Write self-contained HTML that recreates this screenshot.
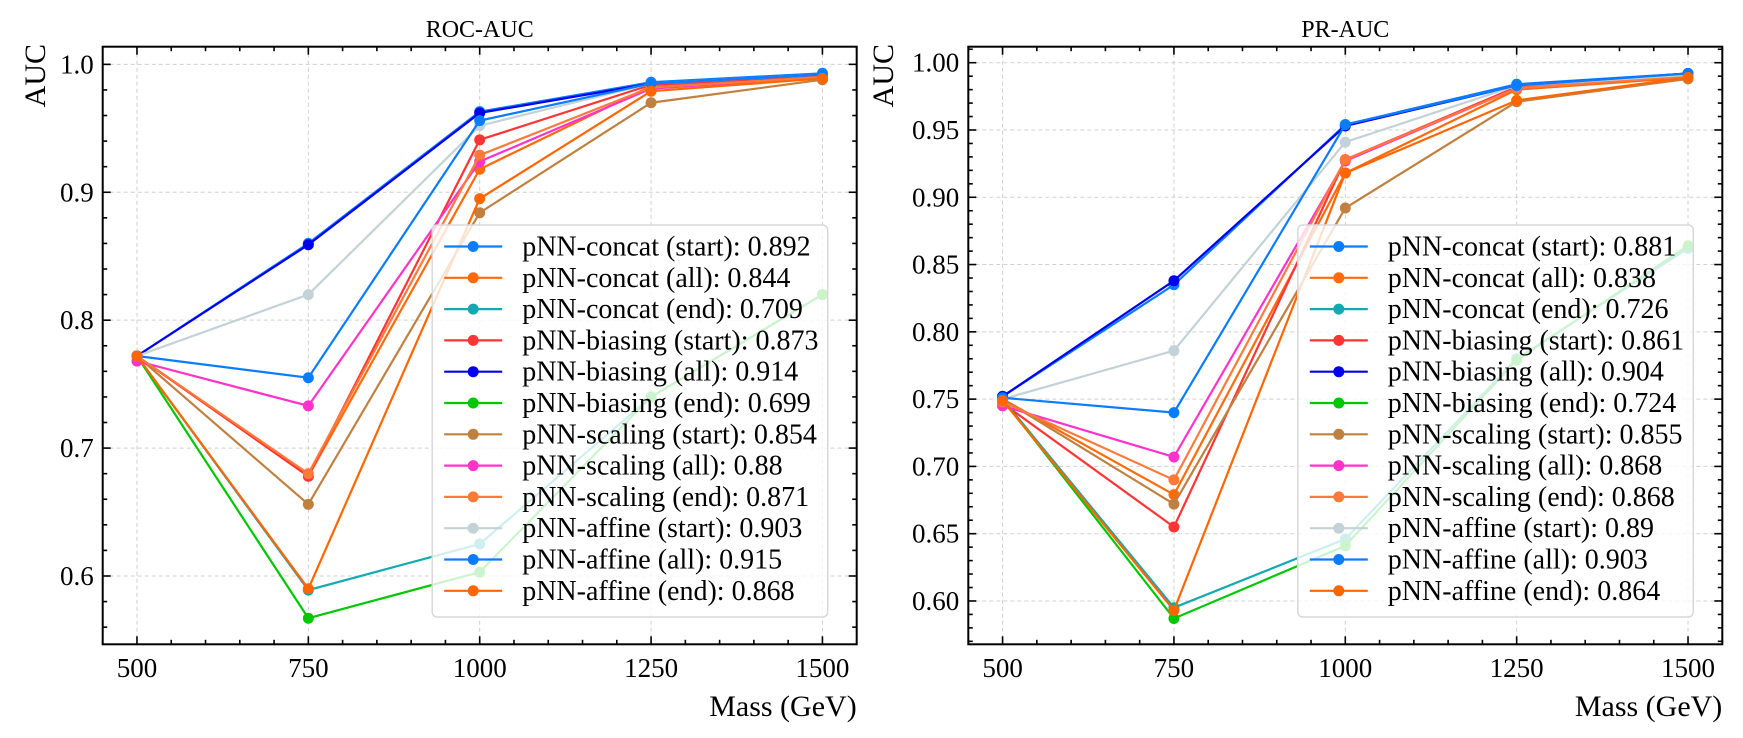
<!DOCTYPE html>
<html><head><meta charset="utf-8">
<style>
html,body{margin:0;padding:0;background:#fff;}
svg{display:block;}
svg text{font-family:"Liberation Serif","DejaVu Serif",serif;}
</style></head>
<body>
<svg id="fig" width="1743" height="738" viewBox="0 0 1743 738" xmlns="http://www.w3.org/2000/svg"></svg>
<script>
const masses = [500, 750, 1000, 1250, 1500];
const seriesNames = ["pNN-concat (start)","pNN-concat (all)","pNN-concat (end)","pNN-biasing (start)","pNN-biasing (all)","pNN-biasing (end)","pNN-scaling (start)","pNN-scaling (all)","pNN-scaling (end)","pNN-affine (start)","pNN-affine (all)","pNN-affine (end)"];
const seriesColors = ["#0a7cff","#ff6a0a","#13a9b0","#ff3535","#0000ee","#00c800","#c0803f","#ff33cc","#ff7a3a","#c2d2d6","#0a7cff","#ff6600"];
const rocValues = [
 [0.772,0.860,0.963,0.986,0.993],
 [0.772,0.678,0.918,0.983,0.990],
 [0.772,0.589,0.625,0.740,0.820],
 [0.772,0.678,0.941,0.984,0.991],
 [0.772,0.859,0.962,0.985,0.992],
 [0.772,0.567,0.603,0.740,0.820],
 [0.772,0.656,0.884,0.970,0.988],
 [0.768,0.733,0.924,0.981,0.990],
 [0.772,0.680,0.929,0.982,0.990],
 [0.772,0.820,0.952,0.985,0.992],
 [0.772,0.755,0.956,0.985,0.992],
 [0.772,0.590,0.895,0.979,0.989]];
const rocLegend = ["0.892","0.844","0.709","0.873","0.914","0.699","0.854","0.88","0.871","0.903","0.915","0.868"];
const prValues = [
 [0.752,0.835,0.954,0.984,0.992],
 [0.750,0.679,0.918,0.980,0.989],
 [0.750,0.595,0.646,0.780,0.862],
 [0.747,0.655,0.928,0.982,0.991],
 [0.752,0.838,0.953,0.983,0.992],
 [0.750,0.587,0.641,0.779,0.864],
 [0.750,0.672,0.892,0.971,0.988],
 [0.745,0.707,0.927,0.981,0.990],
 [0.748,0.690,0.928,0.981,0.990],
 [0.750,0.786,0.941,0.983,0.991],
 [0.751,0.740,0.954,0.983,0.992],
 [0.749,0.593,0.918,0.972,0.989]];
const prLegend = ["0.881","0.838","0.726","0.861","0.904","0.724","0.855","0.868","0.868","0.89","0.903","0.864"];
const xTicks = [500,750,1000,1250,1500];
const rocYTicks = [0.6,0.7,0.8,0.9,1.0];
const rocYLabels = ["0.6","0.7","0.8","0.9","1.0"];
const prYTicks = [0.60,0.65,0.70,0.75,0.80,0.85,0.90,0.95,1.00];
const prYLabels = ["0.60","0.65","0.70","0.75","0.80","0.85","0.90","0.95","1.00"];

const NS="http://www.w3.org/2000/svg";
const svg=document.getElementById('fig');
function mk(tag,attrs,parent){const e=document.createElementNS(NS,tag);for(const k in attrs)e.setAttribute(k,attrs[k]);(parent||svg).appendChild(e);return e;}

function panel(opt){
  const L=opt.left,R=opt.left+754,T=46.7,B=644.3;
  const g=mk('g',{});
  
  
  const xs=v=>L+(v-450)/1100*(R-L);
  const ys=v=>T+(opt.ymax-v)/(opt.ymax-opt.ymin)*(B-T);
  xTicks.forEach(v=>{const l=mk('line',{x1:xs(v),x2:xs(v),y1:T,y2:B,stroke:'#d0d0d0','stroke-width':1,'stroke-dasharray':'4,3'},g);
    });
  opt.yt.forEach(v=>{const l=mk('line',{x1:L,x2:R,y1:ys(v),y2:ys(v),stroke:'#d0d0d0','stroke-width':1,'stroke-dasharray':'4,3'},g);
    });
  opt.vals.forEach((arr,i)=>{
    const sg=mk('g',{},g);
    
    
    const pts=arr.map((v,j)=>xs(masses[j])+','+ys(v)).join(' ');
    const pl=mk('polyline',{points:pts,fill:'none',stroke:seriesColors[i],'stroke-width':2.2},sg);
    
    arr.forEach((v,j)=>{const c=mk('circle',{cx:xs(masses[j]),cy:ys(v),r:5.5,fill:seriesColors[i]},sg);
      });
  });
  const lg=mk('g',{},g);
  
  const lx=R-29-395.5;
  mk('rect',{x:lx,y:225,width:395.5,height:392,rx:5,fill:'#fff','fill-opacity':0.8,stroke:'#d8d8d8','stroke-width':1.5},lg);
  seriesNames.forEach((n,i)=>{
    const y=246.5+i*31.3;
    const e=mk('g',{},lg);
    
    mk('line',{x1:lx+12,x2:lx+70,y1:y,y2:y,stroke:seriesColors[i],'stroke-width':2.2},e);
    mk('circle',{cx:lx+41,cy:y,r:5.5,fill:seriesColors[i]},e);
    const t=mk('text',{x:lx+90,y:y+9,'font-size':28,fill:'#000'},e);
    t.textContent=n+': '+opt.leg[i];
  });
  const fr=mk('rect',{x:L,y:T,width:R-L,height:B-T,fill:'none',stroke:'#000','stroke-width':2},g);
  
  for(let v=450;v<=1550;v+=50){
    const maj=xTicks.includes(v),len=maj?8:4.5,x=xs(v);
    mk('line',{x1:x,x2:x,y1:B,y2:B-len,stroke:'#000','stroke-width':1.6},g);
    mk('line',{x1:x,x2:x,y1:T,y2:T+len,stroke:'#000','stroke-width':1.6},g);
  }
  xTicks.forEach(v=>{const t=mk('text',{x:xs(v),y:677,'font-size':27,'text-anchor':'middle'},g);t.textContent=v;
    });
  const step=opt.minor;
  for(let k=Math.ceil(opt.ymin/step);k*step<=opt.ymax+1e-9;k++){
    const v=k*step;const maj=opt.yt.some(t=>Math.abs(t-v)<1e-6);const len=maj?8:4.5,y=ys(v);
    mk('line',{x1:L,x2:L+len,y1:y,y2:y,stroke:'#000','stroke-width':1.6},g);
    mk('line',{x1:R,x2:R-len,y1:y,y2:y,stroke:'#000','stroke-width':1.6},g);
  }
  opt.yt.forEach((v,i)=>{const t=mk('text',{x:L-9,y:ys(v)+9,'font-size':27,'text-anchor':'end'},g);t.textContent=opt.yl[i];
    });
  const ti=mk('text',{x:(L+R)/2,y:37,'font-size':24,'text-anchor':'middle'},g);ti.textContent=opt.title;
  
  const xl=mk('text',{x:R,y:716,'font-size':30,'text-anchor':'end'},g);xl.textContent='Mass (GeV)';
  
  const yl=mk('text',{x:0,y:0,'font-size':30,'text-anchor':'end',transform:'translate('+(opt.ylx)+',44) rotate(-90)'},g);yl.textContent='AUC';
  
}
panel({name:'roc-auc-panel',left:102.7,ymin:0.5466,ymax:1.0138,yt:rocYTicks,yl:rocYLabels,minor:0.02,vals:rocValues,leg:rocLegend,title:'ROC-AUC',ylx:45});
panel({name:'pr-auc-panel',left:968.3,ymin:0.5678,ymax:1.0119,yt:prYTicks,yl:prYLabels,minor:0.01,vals:prValues,leg:prLegend,title:'PR-AUC',ylx:893});
</script>
</body></html>
